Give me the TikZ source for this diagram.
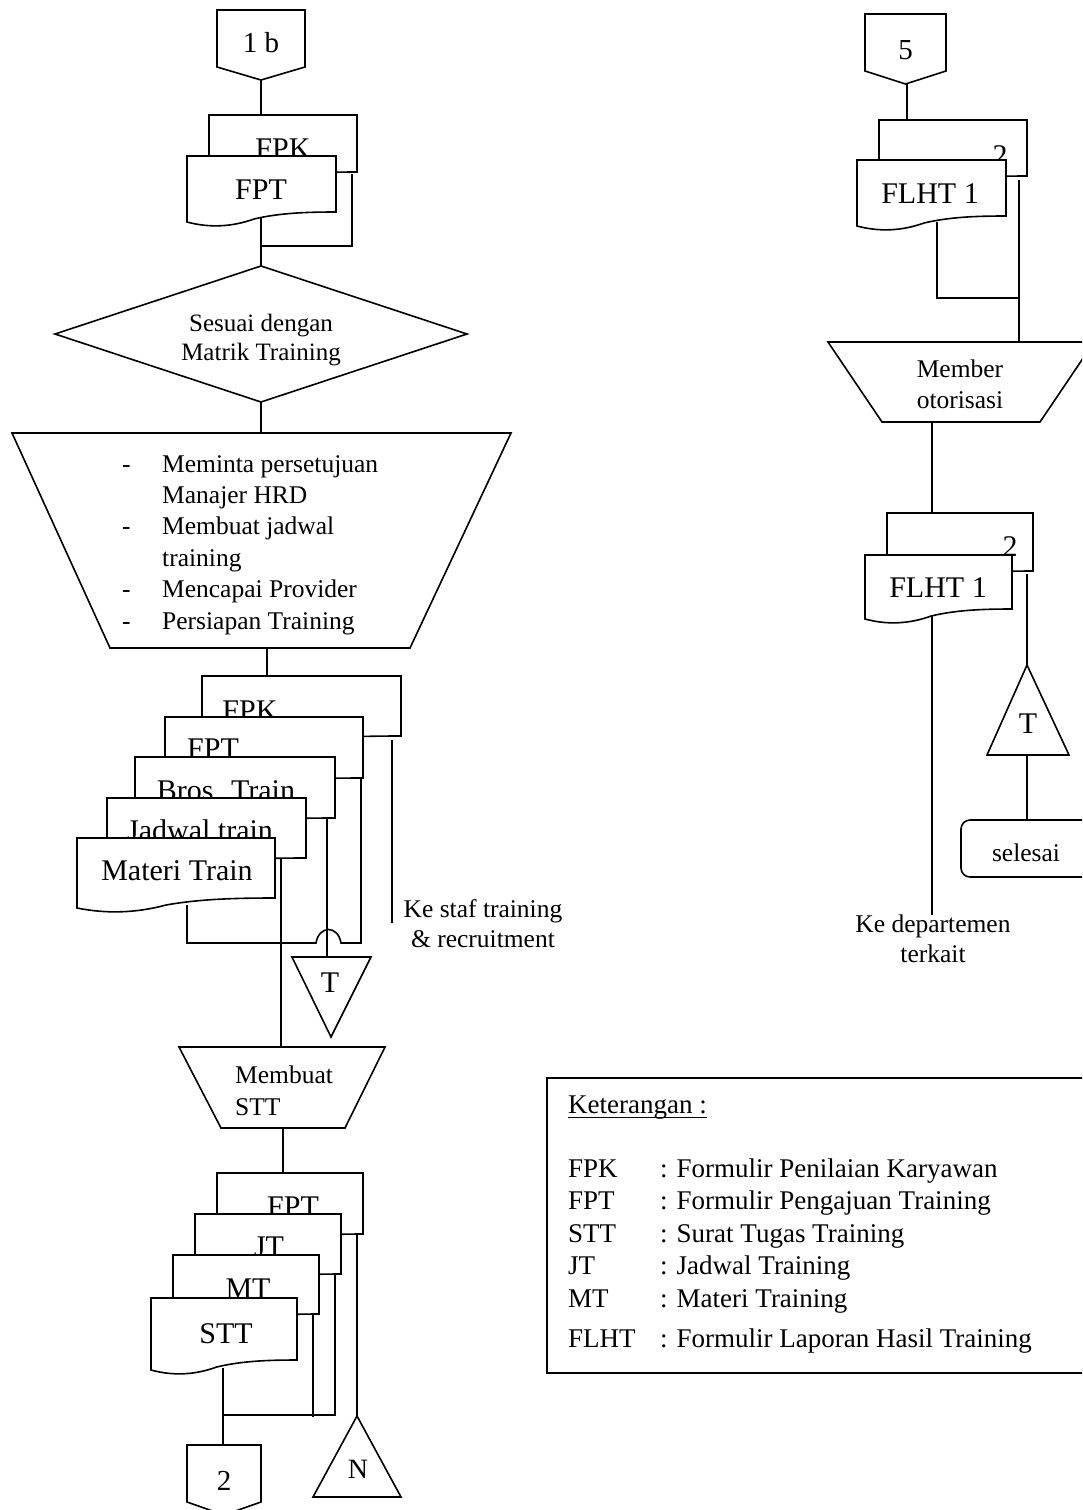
\documentclass[tikz,border=0pt]{standalone}
\usepackage{fontspec}
\setmainfont{Liberation Serif}
\usetikzlibrary{backgrounds}

\tikzset{
  outline/.style={draw=black, line width=1.6pt, fill=white, line join=miter},
  link/.style={draw=black, line width=1.6pt},
  doclabel/.style={anchor=base, inner sep=0pt, font=\fontsize{30}{36}\selectfont},
  txt/.style={inner sep=0pt, font=\fontsize{25.5}{31}\selectfont},
}

% document symbol: name, left, top, right, bottom at right edge, label x, label baseline, label
\newcommand{\docbox}[8]{%
  \draw[outline] (#2,#3) -- (#4,#3) -- (#4,#5)
    .. controls ({#4-0.2*(#4-#2)},#5) and ({#2+0.62*(#4-#2)},{#5+1}) .. ({#2+0.45*(#4-#2)},{#5+7})
    .. controls ({#2+0.3*(#4-#2)},{#5+15}) and ({#2+0.15*(#4-#2)},{#5+16}) .. (#2,{#5+10}) -- cycle;
  \node[doclabel] (#1) at (#6,#7) {#8};
}

% off-page connector: name, left, top, right, side bottom, tip, label baseline, label
\newcommand{\offpage}[8]{%
  \draw[outline] (#2,#3) -- (#4,#3) -- (#4,#5) -- ({(#2+#4)/2},#6) -- (#2,#5) -- cycle;
  \node[doclabel, font=\fontsize{29}{34}\selectfont] (#1) at ({(#2+#4)/2},#7) {#8};
}

\begin{document}
\begin{tikzpicture}[x=1pt, y=-1pt]
\useasboundingbox (0,0) rectangle (1082,1510);
\clip (0,0) rectangle (1082,1510);

% connection points
\coordinate (c1b) at (261,80);
\coordinate (fpkaT) at (261,115);
\coordinate (fptaB) at (261,218);
\coordinate (dTop) at (261,266);
\coordinate (fpkaB) at (352,174);
\coordinate (jA) at (261,246);
\coordinate (dBot) at (261,402);
\coordinate (taskT) at (261,433);
\coordinate (taskB) at (267,648);
\coordinate (fpkbT) at (267,676);
\coordinate (mtrB) at (187,905);
\coordinate (fptbB) at (361,779);
\coordinate (brosB) at (327,819);
\coordinate (tAtop) at (327,957);
\coordinate (jdwB) at (281,859);
\coordinate (sttTop) at (281,1047);
\coordinate (fpkbB) at (392,740);
\coordinate (stafEnd) at (392,923);
\coordinate (sttBot) at (283,1128);
\coordinate (fptcT) at (283,1173);
\coordinate (sttdB) at (223,1368);
\coordinate (c2top) at (223,1445);
\coordinate (jtB) at (335,1275);
\coordinate (jB) at (223,1415);
\coordinate (mtB) at (313,1315);
\coordinate (mtEnd) at (313,1417);
\coordinate (fptcB) at (357,1235);
\coordinate (nTop) at (357,1416);
\coordinate (c5) at (907,84);
\coordinate (r2aT) at (907,120);
\coordinate (flaB) at (937,222);
\coordinate (jR) at (1019,298);
\coordinate (r2aB) at (1019,180);
\coordinate (memT) at (1019,342);
\coordinate (memB) at (932,422);
\coordinate (r2bT) at (932,513);
\coordinate (flbB) at (932,615);
\coordinate (depEnd) at (932,915);
\coordinate (r2bB) at (1027,574);
\coordinate (t2Top) at (1027,665);
\coordinate (t2Bot) at (1027,755);
\coordinate (selT) at (1027,820);

% flow lines, drawn behind the symbols
\begin{scope}[on background layer]
  \fill[white] (0,0) rectangle (1082,1510);
  \draw[link] (c1b) -- (fpkaT);
  \draw[link] (fptaB) -- (dTop);
  \draw[link] (fpkaB) |- (jA);
  \draw[link] (dBot) -- (taskT);
  \draw[link] (taskB) -- (fpkbT);
  \draw[link] (mtrB) |- (316,943) .. controls (319,925) and (338,925) .. (341,943) -| (fptbB);
  \draw[link] (brosB) -- (tAtop);
  \draw[link] (jdwB) -- (sttTop);
  \draw[link] (fpkbB) -- (stafEnd);
  \draw[link] (sttBot) -- (fptcT);
  \draw[link] (sttdB) -- (c2top);
  \draw[link] (jtB) |- (jB);
  \draw[link] (mtB) -- (mtEnd);
  \draw[link] (fptcB) -- (nTop);
  \draw[link] (c5) -- (r2aT);
  \draw[link] (flaB) |- (jR);
  \draw[link] (r2aB) -- (memT);
  \draw[link] (memB) -- (r2bT);
  \draw[link] (flbB) -- (depEnd);
  \draw[link] (r2bB) -- (t2Top);
  \draw[link] (t2Bot) -- (selT);
\end{scope}

% ---------------- left column ----------------
\offpage{p1b}{217}{10}{305}{67}{80}{52}{1 b}
\docbox{fpka}{209}{115}{357}{172}{283}{158}{FPK}
\docbox{fpta}{187}{156}{336}{212}{261}{199}{FPT}

\draw[outline] (261,266) -- (467,334) -- (261,402) -- (55,334) -- cycle;
\node[txt, anchor=base, font=\fontsize{25}{29}\selectfont] (cek) at (261,331)
  {\begin{tabular}[t]{@{}c@{}}Sesuai dengan\\Matrik Training\end{tabular}};

\draw[outline] (12,433) -- (511,433) -- (410,648) -- (110,648) -- cycle;
\node[txt, anchor=base west, font=\fontsize{25.5}{31.4}\selectfont] (tasks) at (122,472)
  {\begin{tabular}[t]{@{}l@{}}
   \makebox[40pt][l]{-}Meminta persetujuan\\
   \makebox[40pt][l]{}Manajer HRD\\
   \makebox[40pt][l]{-}Membuat jadwal\\
   \makebox[40pt][l]{}training\\
   \makebox[40pt][l]{-}Mencapai Provider\\
   \makebox[40pt][l]{-}Persiapan Training
  \end{tabular}};

\docbox{fpkb}{202}{676}{401}{736}{250}{720}{FPK}
\docbox{fptb}{165}{717}{363}{778}{213}{758}{FPT}
\docbox{bros}{135}{757}{335}{818}{226}{800}{Bros. Train}
\docbox{jdw}{107}{798}{306}{858}{200}{840}{Jadwal train}
\docbox{mtr}{77}{838}{275}{898}{177}{880}{Materi Train}

\node[txt, anchor=base, font=\fontsize{25.5}{30}\selectfont] (staf) at (483,917)
  {\begin{tabular}[t]{@{}c@{}}Ke staf training\\\& recruitment\end{tabular}};

\draw[outline] (292,957) -- (371,957) -- (331,1037) -- cycle;
\node[doclabel] (tA) at (330,992) {T};

\draw[outline] (179,1047) -- (385,1047) -- (345,1128) -- (221,1128) -- cycle;
\node[txt, anchor=base west, font=\fontsize{25.5}{32}\selectfont] (mkstt) at (235,1083)
  {\begin{tabular}[t]{@{}l@{}}Membuat\\STT\end{tabular}};

\docbox{fptc}{217}{1173}{363}{1234}{293}{1216}{FPT}
\docbox{jt}{195}{1214}{341}{1274}{269}{1256}{JT}
\docbox{mt}{173}{1255}{319}{1314}{248}{1298}{MT}
\docbox{stt}{151}{1298}{297}{1360}{226}{1343}{STT}

\offpage{p2}{187}{1445}{261}{1502}{1515}{1490}{2}

\draw[outline] (357,1416) -- (401,1497) -- (313,1497) -- cycle;
\node[doclabel, font=\fontsize{28}{34}\selectfont] (nA) at (358,1478) {N};

% ---------------- right column ----------------
\offpage{p5}{865}{14}{946}{71}{84}{59}{5}
\docbox{r2a}{879}{120}{1027}{176}{1000}{165}{2}
\docbox{flhta}{857}{160}{1006}{216}{930}{203}{FLHT 1}

\draw[outline] (828,342) -- (1094,342) -- (1040,422) -- (882,422) -- cycle;
\node[txt, anchor=base] (otor) at (960,377)
  {\begin{tabular}[t]{@{}c@{}}Member\\otorisasi\end{tabular}};

\docbox{r2b}{887}{513}{1033}{571}{1010}{556}{2}
\docbox{flhtb}{865}{555}{1012}{609}{938}{597}{FLHT 1}

\node[txt, anchor=base, font=\fontsize{25.5}{30}\selectfont] (dept) at (933,932)
  {\begin{tabular}[t]{@{}c@{}}Ke departemen\\terkait\end{tabular}};

\draw[outline] (1027,665) -- (1069,755) -- (987,755) -- cycle;
\node[doclabel] (tB) at (1028,733) {T};

\draw[outline, rounded corners=9pt] (961,820) rectangle (1110,877);
\node[txt, anchor=base] (done) at (1026,861) {selesai};

% ---------------- legend ----------------
\draw[outline] (547,1078) rectangle (1110,1373);
\node[txt, anchor=base west, font=\fontsize{27}{32}\selectfont] (ket) at (568,1113) {Keterangan :};
\draw[line width=1.3pt] ([yshift=-4.5pt]ket.base west) -- ([yshift=-4.5pt]ket.base east);
\node[txt, anchor=base west, font=\fontsize{27}{32.5}\selectfont] (abbr) at (568,1177)
  {\begin{tabular}[t]{@{}l@{}}
   \makebox[92pt][l]{FPK}: Formulir Penilaian Karyawan\\
   \makebox[92pt][l]{FPT}: Formulir Pengajuan Training\\
   \makebox[92pt][l]{STT}: Surat Tugas Training\\
   \makebox[92pt][l]{JT}: Jadwal Training\\
   \makebox[92pt][l]{MT}: Materi Training\\[7.5pt]
   \makebox[92pt][l]{FLHT}: Formulir Laporan Hasil Training
  \end{tabular}};
\end{tikzpicture}
\end{document}
